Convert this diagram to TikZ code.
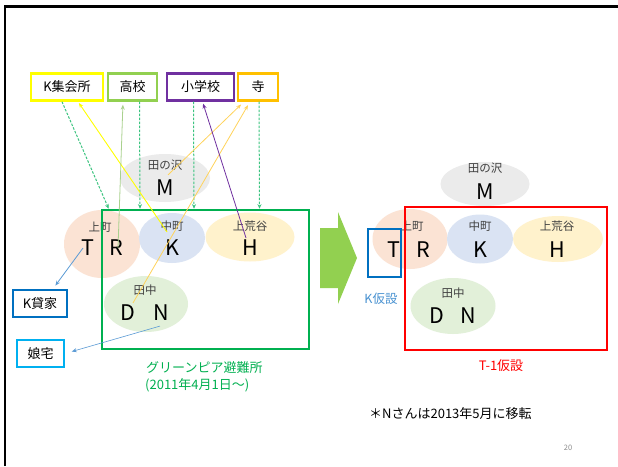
\documentclass[tikz,border=0pt]{standalone}
\usepackage{fontspec}
\setmainfont{Noto Sans CJK JP}
\usetikzlibrary{arrows.meta,shapes.geometric}
\definecolor{cyel}{HTML}{FFFF00}
\definecolor{clg}{HTML}{92D050}
\definecolor{clg2}{HTML}{A9D18E}
\definecolor{cpur}{HTML}{7030A0}
\definecolor{cora}{HTML}{FFC000}
\definecolor{cora2}{HTML}{FFD35A}
\definecolor{cgrn}{HTML}{00B050}
\definecolor{cdot}{HTML}{3CC480}
\definecolor{cblu}{HTML}{0070C0}
\definecolor{cblu2}{HTML}{5B9BD5}
\definecolor{csky}{HTML}{00B0F0}
\definecolor{cred}{HTML}{FF0000}
\definecolor{egray}{HTML}{EBEBEB}
\definecolor{epeach}{HTML}{FBE3D4}
\definecolor{eblue}{HTML}{DAE3F3}
\definecolor{eyel}{HTML}{FFF2CC}
\definecolor{egreen}{HTML}{E2F0D9}
\begin{document}
\begin{tikzpicture}[x=1pt,y=-1pt,
  place/.style={ellipse,inner sep=0pt},
  small/.style={font=\fontsize{11.5}{12}\selectfont,text=black!75,inner sep=0pt},
  big/.style={font=\fontsize{21.5}{22}\selectfont,inner sep=0pt},
  topbox/.style={draw,line width=2.4pt,minimum height=27pt,inner sep=0pt,font=\fontsize{13}{14}\selectfont,fill=white},
  dots/.style={draw=cdot,line width=1pt,dash pattern=on 2.5pt off 1.5pt,-{Stealth[length=4.5pt,width=4pt,fill=cdot]}},
  arr/.style={line width=0.8pt,-{Stealth[length=5pt,width=4pt]}}
]
\useasboundingbox (0,0) rectangle (618,466);
\fill[white] (0,0) rectangle (618,466);
% slide frame
\draw[line width=2.2pt] (5,466) -- (5,6.5) -- (618,6.5);

% ===== left side ellipses =====
\node[place,fill=egray,minimum width=90pt,minimum height=48pt] (eM) at (165,178) {};
\node[place,fill=epeach,minimum width=76pt,minimum height=68pt] (eTR) at (102,244) {};
\node[place,fill=eblue,minimum width=66pt,minimum height=50pt] (eK) at (172,238) {};
\node[place,fill=eyel,minimum width=89pt,minimum height=49pt] (eH) at (250,237) {};
\node[place,fill=egreen,minimum width=84pt,minimum height=56pt] (eDN) at (146,304) {};

\node[small] (lM) at (165,165) {田の沢};
\node[big] (M) at (165,188) {M};
\node[small] (lTR) at (100,227) {上町};
\node[big] (T) at (88,248) {T};
\node[big] (R) at (116,248) {R};
\node[small] (lK) at (172,226) {中町};
\node[big] (K) at (172,248) {K};
\node[small] (lH) at (250,226) {上荒谷};
\node[big] (H) at (250,248) {H};
\node[small] (lDN) at (145,290) {田中};
\node[big] (D) at (128,313) {D};
\node[big] (N) at (161,313) {N};

% green rectangle
\node[draw=cgrn,line width=2.6pt,minimum width=207pt,minimum height=139pt,inner sep=0pt] (gr) at (205.5,279.5) {};

% top boxes
\node[topbox,draw=cyel,minimum width=72pt] (k1) at (67,87) {K集会所};
\node[topbox,draw=clg,minimum width=49pt] (k2) at (132.5,87) {高校};
\node[topbox,draw=cpur,minimum width=67pt] (k3) at (200.5,87) {小学校};
\node[topbox,draw=cora,minimum width=40pt] (k4) at (258,87) {寺};

% side boxes
\node[topbox,draw=cblu,minimum width=54pt] (kk) at (40,303.5) {K貸家};
\node[topbox,draw=csky,line width=2pt,minimum width=47pt] (mu) at (40.5,353.5) {娘宅};

% dotted arrows from boxes to the evacuation site
\coordinate (d1) at ([xshift=-5pt]k1.south);
\coordinate (d1e) at ([xshift=8pt]gr.north west);
\coordinate (d2) at ([xshift=7pt]k2.south);
\coordinate (d3) at ([xshift=-7pt]k3.south);
\coordinate (d4) at ([xshift=1pt]k4.south);
\coordinate (d2e) at (d2 |- gr.north);
\coordinate (d3e) at (d3 |- gr.north);
\coordinate (d4e) at (d4 |- gr.north);
\draw[dots] (d1) -- (d1e);
\draw[dots] (d2) -- ([xshift=0.5pt]d2e);
\draw[dots] (d3) -- ([xshift=0.5pt]d3e);
\draw[dots] (d4) -- ([xshift=0.5pt]d4e);

% solid arrows
\draw[arr,cyel,line width=0.9pt,shorten >=1.5pt] ([shift={(-5,-8)}]K.north) -- ([xshift=11pt]k1.south);
\draw[arr,clg2,shorten >=3pt] ([xshift=2pt]R.center) -- ([xshift=-9.5pt]k2.south);
\draw[arr,cora2,shorten >=4pt] ([shift={(3,-5)}]M.north) -- ([xshift=-14pt]k4.south);
\draw[arr,cora2,shorten >=4pt] ([shift={(5,-2)}]D.north) -- ([xshift=-8pt]k4.south);
\draw[arr,cpur,shorten >=2pt] ([shift={(-4,-2)}]H.north) -- ([xshift=2pt]k3.south);
\draw[arr,cblu2,shorten >=4pt] ([xshift=-5pt]T.center) -- ([xshift=13pt]kk.north);
\draw[arr,cblu2,line width=0.6pt,shorten >=7pt] ([shift={(-1,5)}]N.south) -- (mu.east);

% captions
\node[anchor=west,text=cgrn,font=\fontsize{13}{14}\selectfont,inner sep=0pt] (cap1) at (146,368) {グリーンピア避難所};
\node[anchor=west,text=cgrn,font=\fontsize{13}{14}\selectfont,inner sep=0pt] (cap2) at (145,385) {(2011年4月1日～)};

% big arrow
\fill[clg] (320,228) -- (338,228) -- (338,212) -- (357,258) -- (338,304) -- (338,288) -- (320,288) -- cycle;

% ===== right side =====
\node[place,fill=egray,minimum width=89pt,minimum height=44pt] (fM) at (485,184) {};
\node[place,fill=epeach,minimum width=75pt,minimum height=60pt] (fTR) at (410,239) {};
\node[place,fill=eblue,minimum width=66pt,minimum height=49pt] (fK) at (480,239) {};
\node[place,fill=eyel,minimum width=90pt,minimum height=46pt] (fH) at (558,239) {};
\node[place,fill=egreen,minimum width=85pt,minimum height=56pt] (fDN) at (453,306) {};

\node[small] (mM) at (485,168) {田の沢};
\node[big] (M2) at (485,192) {M};
\node[small] (mTR) at (412,226) {上町};
\node[big] (T2) at (394,250) {T};
\node[big] (R2) at (423,250) {R};
\node[small] (mK) at (480,226) {中町};
\node[big] (K2) at (480,250) {K};
\node[small] (mH) at (557,226) {上荒谷};
\node[big] (H2) at (557,250) {H};
\node[small] (mDN) at (453,293) {田中};
\node[big] (D2) at (437,316) {D};
\node[big] (N2) at (468,316) {N};

\node[draw=cred,line width=2.6pt,minimum width=202pt,minimum height=143pt,inner sep=0pt] (rr) at (506,278.5) {};
\node[draw=cblu,line width=2.4pt,minimum width=33pt,minimum height=48pt,inner sep=0pt] (tb) at (384.5,253) {};

\node[text=cblu2!80!cblu,font=\fontsize{12.5}{13}\selectfont,inner sep=0pt] (kk2) at (381,299) {K仮設};
\node[text=cred,font=\fontsize{13}{14}\selectfont,inner sep=0pt] (t1) at (501,366) {T-1仮設};
\node[anchor=west,font=\fontsize{13}{14}\selectfont,inner sep=0pt] (note) at (369,414) {＊Nさんは2013年5月に移転};
\node[text=black!45,font=\fontsize{7.5}{8}\selectfont,inner sep=0pt] (pg) at (568,448) {20};
\end{tikzpicture}
\end{document}
